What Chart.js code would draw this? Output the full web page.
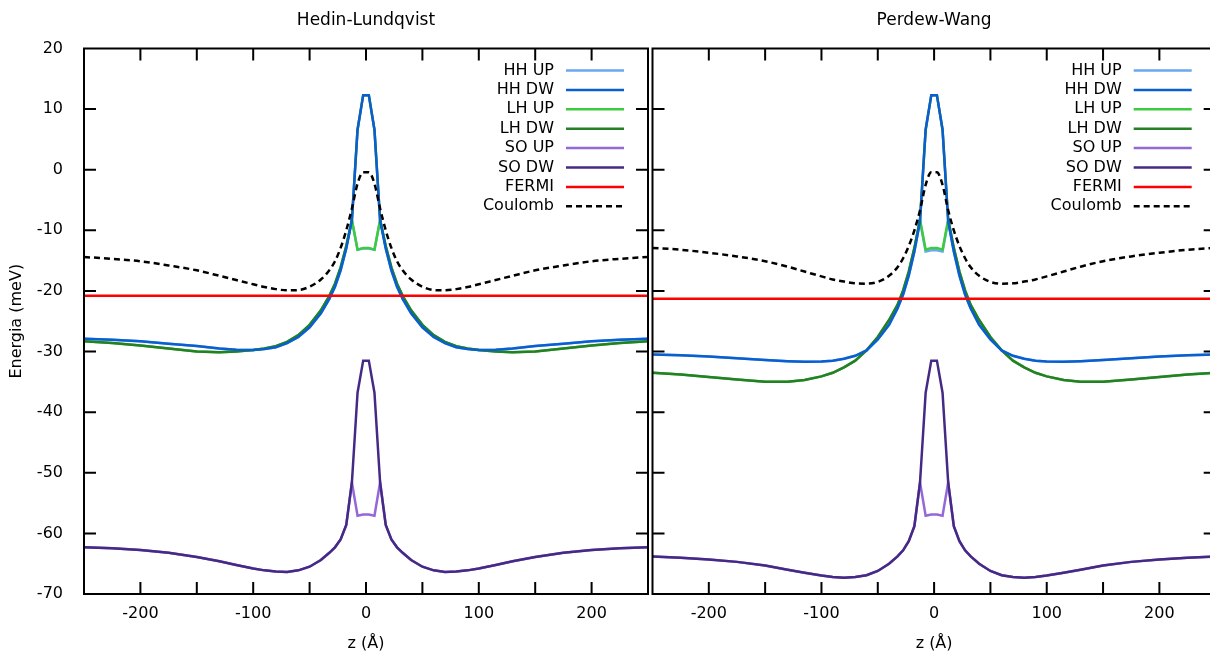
<!DOCTYPE html>
<html>
<head>
<meta charset="utf-8">
<script src="https://cdn.jsdelivr.net/npm/chart.js@4.4.1/dist/chart.umd.min.js"></script>
<style>
  html, body { margin: 0; padding: 0; background: #fff; overflow: hidden; }
  #wrap { position: relative; width: 1210px; height: 658px; overflow: hidden; }
  #left { position: absolute; left: 0; top: 0; width: 650px; height: 658px; }
  #right { position: absolute; left: 650px; top: 0; width: 570px; height: 658px; }
</style>
</head>
<body>
<div id="wrap">
  <div id="left"><canvas id="chart-hl"></canvas></div>
  <div id="right"><canvas id="chart-pw"></canvas></div>
</div>
<script>
// z grid (Angstrom), shared by every curve
const zGrid = [-250, -225, -200, -175, -150, -130, -115, -100, -90, -80, -70, -60, -50, -40, -32.5, -27.5, -22.5, -17.5, -12.5, -7.5, -2.5,
               2.5, 7.5, 12.5, 17.5, 22.5, 27.5, 32.5, 40, 50, 60, 70, 80, 90, 100, 115, 130, 150, 175, 200, 225, 250];
const fermiZ = [-250, 250];
const xTicks = [-200, -150, -100, -50, 0, 50, 100, 150, 200];
const yTicks = [-60, -50, -40, -30, -20, -10, 0, 10];

// Hedin-Lundqvist (meV)
const hlHHup = [-27.9, -28.05, -28.3, -28.7, -29.1, -29.5, -29.7, -29.75, -29.6, -29.3, -28.6, -27.6, -26.0, -23.7, -21.3, -19.3, -16.6, -13.0, -8.3, -13.2, -13.0,
                -13.0, -13.2, -8.3, -13.0, -16.6, -19.3, -21.3, -23.7, -26.0, -27.6, -28.6, -29.3, -29.6, -29.75, -29.7, -29.5, -29.1, -28.7, -28.3, -28.05, -27.9];
const hlHHdw = [-27.9, -28.05, -28.3, -28.7, -29.1, -29.5, -29.7, -29.75, -29.6, -29.3, -28.6, -27.6, -26.0, -23.7, -21.3, -19.3, -16.6, -13.0, -8.3, 6.6, 12.3,
                12.3, 6.6, -8.3, -13.0, -16.6, -19.3, -21.3, -23.7, -26.0, -27.6, -28.6, -29.3, -29.6, -29.75, -29.7, -29.5, -29.1, -28.7, -28.3, -28.05, -27.9];
const hlLHup = [-28.3, -28.6, -29.0, -29.5, -30.0, -30.1, -30.0, -29.75, -29.5, -29.1, -28.4, -27.3, -25.6, -23.2, -20.8, -18.8, -16.1, -12.6, -8.3, -13.2, -12.9,
                -12.9, -13.2, -8.3, -12.6, -16.1, -18.8, -20.8, -23.2, -25.6, -27.3, -28.4, -29.1, -29.5, -29.75, -30.0, -30.1, -30.0, -29.5, -29.0, -28.6, -28.3];
const hlLHdw = [-28.3, -28.6, -29.0, -29.5, -30.0, -30.1, -30.0, -29.75, -29.5, -29.1, -28.4, -27.3, -25.6, -23.2, -20.8, -18.8, -16.1, -12.6, -8.3, 6.6, 12.3,
                12.3, 6.6, -8.3, -12.6, -16.1, -18.8, -20.8, -23.2, -25.6, -27.3, -28.4, -29.1, -29.5, -29.75, -30.0, -30.1, -30.0, -29.5, -29.0, -28.6, -28.3];
const hlSOup = [-62.3, -62.45, -62.75, -63.2, -63.9, -64.6, -65.2, -65.8, -66.1, -66.3, -66.35, -66.1, -65.5, -64.4, -63.2, -62.3, -61.0, -58.6, -51.6, -57.1, -56.9,
                -56.9, -57.1, -51.6, -58.6, -61.0, -62.3, -63.2, -64.4, -65.5, -66.1, -66.35, -66.3, -66.1, -65.8, -65.2, -64.6, -63.9, -63.2, -62.75, -62.45, -62.3];
const hlSOdw = [-62.3, -62.45, -62.75, -63.2, -63.9, -64.6, -65.2, -65.8, -66.1, -66.3, -66.35, -66.1, -65.5, -64.4, -63.2, -62.3, -61.0, -58.6, -51.6, -36.8, -31.5,
                -31.5, -36.8, -51.6, -58.6, -61.0, -62.3, -63.2, -64.4, -65.5, -66.1, -66.35, -66.3, -66.1, -65.8, -65.2, -64.6, -63.9, -63.2, -62.75, -62.45, -62.3];
const hlCoulomb = [-14.4, -14.7, -15.1, -15.8, -16.6, -17.5, -18.2, -18.9, -19.35, -19.7, -19.9, -19.85, -19.3, -18.1, -16.6, -15.1, -12.9, -10.0, -6.4, -2.3, -0.4,
                   -0.4, -2.3, -6.4, -10.0, -12.9, -15.1, -16.6, -18.1, -19.3, -19.85, -19.9, -19.7, -19.35, -18.9, -18.2, -17.5, -16.6, -15.8, -15.1, -14.7, -14.4];
const hlFermi = [-20.8, -20.8];

// Perdew-Wang (meV)
const pwHHup = [-30.5, -30.6, -30.8, -31.1, -31.4, -31.6, -31.7, -31.65, -31.5, -31.2, -30.7, -29.8, -28.0, -25.6, -22.9, -20.6, -17.5, -13.5, -8.5, -13.5, -13.3,
                -13.3, -13.5, -8.5, -13.5, -17.5, -20.6, -22.9, -25.6, -28.0, -29.8, -30.7, -31.2, -31.5, -31.65, -31.7, -31.6, -31.4, -31.1, -30.8, -30.6, -30.5];
const pwHHdw = [-30.5, -30.6, -30.8, -31.1, -31.4, -31.6, -31.7, -31.65, -31.5, -31.2, -30.7, -29.8, -28.0, -25.6, -22.9, -20.6, -17.5, -13.5, -8.5, 6.6, 12.3,
                12.3, 6.6, -8.5, -13.5, -17.5, -20.6, -22.9, -25.6, -28.0, -29.8, -30.7, -31.2, -31.5, -31.65, -31.7, -31.6, -31.4, -31.1, -30.8, -30.6, -30.5];
const pwLHup = [-33.5, -33.8, -34.2, -34.6, -35.0, -35.0, -34.7, -34.1, -33.5, -32.6, -31.5, -29.8, -27.6, -24.8, -22.3, -19.9, -16.8, -12.9, -8.2, -13.2, -12.9,
                -12.9, -13.2, -8.2, -12.9, -16.8, -19.9, -22.3, -24.8, -27.6, -29.8, -31.5, -32.6, -33.5, -34.1, -34.7, -35.0, -35.0, -34.6, -34.2, -33.8, -33.5];
const pwLHdw = [-33.5, -33.8, -34.2, -34.6, -35.0, -35.0, -34.7, -34.1, -33.5, -32.6, -31.5, -29.8, -27.6, -24.8, -22.3, -19.9, -16.8, -12.9, -8.2, 6.6, 12.3,
                12.3, 6.6, -8.2, -12.9, -16.8, -19.9, -22.3, -24.8, -27.6, -29.8, -31.5, -32.6, -33.5, -34.1, -34.7, -35.0, -35.0, -34.6, -34.2, -33.8, -33.5];
const pwSOup = [-63.8, -64.0, -64.3, -64.7, -65.3, -66.0, -66.5, -66.95, -67.2, -67.3, -67.2, -66.9, -66.2, -65.0, -63.8, -62.8, -61.3, -58.8, -51.6, -57.1, -56.9,
                -56.9, -57.1, -51.6, -58.8, -61.3, -62.8, -63.8, -65.0, -66.2, -66.9, -67.2, -67.3, -67.2, -66.95, -66.5, -66.0, -65.3, -64.7, -64.3, -64.0, -63.8];
const pwSOdw = [-63.8, -64.0, -64.3, -64.7, -65.3, -66.0, -66.5, -66.95, -67.2, -67.3, -67.2, -66.9, -66.2, -65.0, -63.8, -62.8, -61.3, -58.8, -51.6, -36.8, -31.5,
                -31.5, -36.8, -51.6, -58.8, -61.3, -62.8, -63.8, -65.0, -66.2, -66.9, -67.2, -67.3, -67.2, -66.95, -66.5, -66.0, -65.3, -64.7, -64.3, -64.0, -63.8];
const pwCoulomb = [-12.9, -13.2, -13.7, -14.3, -15.1, -16.0, -16.8, -17.6, -18.1, -18.45, -18.75, -18.8, -18.5, -17.5, -16.1, -14.6, -12.6, -10.0, -6.7, -2.5, -0.4,
                   -0.4, -2.5, -6.7, -10.0, -12.6, -14.6, -16.1, -17.5, -18.5, -18.8, -18.75, -18.45, -18.1, -17.6, -16.8, -16.0, -15.1, -14.3, -13.7, -13.2, -12.9];
const pwFermi = [-21.3, -21.3];

Chart.defaults.font.family = "'DejaVu Sans', sans-serif";
Chart.defaults.font.size = 16;
Chart.defaults.color = "#000";

function pts(xs, ys) {
    return xs.map((x, i) => ({ x: x, y: ys[i] }));
}

// legend order first, "order" decides what is painted on top
function panelDatasets(s) {
    const base = { xAxisID: "x", yAxisID: "y", pointRadius: 0, borderWidth: 2.5, tension: 0, fill: false };
    return [
        { ...base, label: "HH UP", data: pts(zGrid, s.hhUp), borderColor: "#6aa6f2", order: 7 },
        { ...base, label: "HH DW", data: pts(zGrid, s.hhDw), borderColor: "#0a5fd0", order: 4 },
        { ...base, label: "LH UP", data: pts(zGrid, s.lhUp), borderColor: "#3ccb3c", order: 6 },
        { ...base, label: "LH DW", data: pts(zGrid, s.lhDw), borderColor: "#257f25", order: 5 },
        { ...base, label: "SO UP", data: pts(zGrid, s.soUp), borderColor: "#9468d8", order: 3 },
        { ...base, label: "SO DW", data: pts(zGrid, s.soDw), borderColor: "#452a85", order: 2 },
        { ...base, label: "FERMI", data: pts(fermiZ, s.fermi), borderColor: "#ff0000", order: 0 },
        { ...base, label: "Coulomb", data: pts(zGrid, s.coulomb), borderColor: "#000000", borderDash: [6, 4],
          cubicInterpolationMode: "monotone", order: 1 }
    ];
}

// gnuplot-like frame: box, inward ticks on all sides, key in the upper right
const framePlugin = {
    id: "frame",
    afterDatasetsDraw(chart) {
        const ctx = chart.ctx;
        const a = chart.chartArea;
        const x = chart.scales.x;
        const y = chart.scales.y;
        ctx.save();
        ctx.strokeStyle = "#000";
        ctx.lineWidth = 2;
        ctx.setLineDash([]);
        ctx.beginPath();
        xTicks.forEach(v => {
            const px = x.getPixelForValue(v);
            ctx.moveTo(px, a.bottom); ctx.lineTo(px, a.bottom - 12);
            ctx.moveTo(px, a.top); ctx.lineTo(px, a.top + 12);
        });
        yTicks.forEach(v => {
            const py = y.getPixelForValue(v);
            ctx.moveTo(a.left, py); ctx.lineTo(a.left + 12, py);
            ctx.moveTo(a.right, py); ctx.lineTo(a.right - 12, py);
        });
        ctx.stroke();
        ctx.strokeRect(a.left, a.top, a.right - a.left, a.bottom - a.top);

        // key
        const lineEnd = a.right - 24;
        const lineStart = lineEnd - 58;
        ctx.font = "16px 'DejaVu Sans', sans-serif";
        ctx.textAlign = "right";
        ctx.textBaseline = "middle";
        chart.data.datasets.forEach((ds, i) => {
            const ry = a.top + 22 + i * 19.4;
            ctx.fillStyle = "#000";
            ctx.fillText(ds.label, lineStart - 12, ry);
            ctx.strokeStyle = ds.borderColor;
            ctx.lineWidth = ds.borderWidth;
            ctx.setLineDash(ds.borderDash || []);
            ctx.beginPath();
            ctx.moveTo(lineStart, ry);
            ctx.lineTo(lineEnd, ry);
            ctx.stroke();
        });
        ctx.restore();
    }
};

function panelOptions(title, isLeft) {
    const yAxis = {
        display: isLeft, min: -70, max: 20,
        grid: { display: false }, border: { display: false },
        ticks: { stepSize: 10, padding: 13 },
        title: { display: true, text: "Energia (meV)", padding: { top: 7, bottom: 0 } }
    };
    if (isLeft) {
        yAxis.afterFit = s => { s.width = 84; };
    }
    return {
        responsive: true,
        maintainAspectRatio: false,
        animation: false,
        devicePixelRatio: 1,
        layout: { padding: isLeft ? { left: 0, right: 2, top: 0, bottom: 0 } : { left: 2.5, right: 4.3, top: 0, bottom: 0 } },
        plugins: { legend: { display: false }, tooltip: { enabled: false }, title: { display: false } },
        scales: {
            x: {
                type: "linear", position: "bottom", min: -250, max: 250,
                // invisible tick marks only push the labels down
                grid: { display: true, drawOnChartArea: false, drawTicks: true, tickLength: 10, tickColor: "rgba(0,0,0,0)" },
                border: { display: false },
                ticks: { stepSize: 50, autoSkip: false, maxRotation: 0, padding: 0,
                         callback: v => (v % 100 === 0 ? String(v) : "") },
                title: { display: true, text: "z (Å)", padding: { top: 0, bottom: 5 } },
                afterFit: s => { s.height = 64; }
            },
            top: {
                type: "linear", position: "top", min: -250, max: 250,
                grid: { display: false }, border: { display: false }, ticks: { display: false },
                title: { display: true, text: title, font: { size: 17 }, padding: { top: 10, bottom: 0 } },
                afterFit: s => { s.height = 48.5; }
            },
            y: yAxis
        }
    };
}

// Hedin-Lundqvist panel
const ctxHL = document.getElementById("chart-hl").getContext("2d");
const chartHL = new Chart(ctxHL, {
    type: "line",
    data: {
        datasets: panelDatasets({ hhUp: hlHHup, hhDw: hlHHdw, lhUp: hlLHup, lhDw: hlLHdw,
                                  soUp: hlSOup, soDw: hlSOdw, fermi: hlFermi, coulomb: hlCoulomb })
    },
    options: panelOptions("Hedin-Lundqvist", true),
    plugins: [framePlugin]
});

// Perdew-Wang panel
const ctxPW = document.getElementById("chart-pw").getContext("2d");
const chartPW = new Chart(ctxPW, {
    type: "line",
    data: {
        datasets: panelDatasets({ hhUp: pwHHup, hhDw: pwHHdw, lhUp: pwLHup, lhDw: pwLHdw,
                                  soUp: pwSOup, soDw: pwSOdw, fermi: pwFermi, coulomb: pwCoulomb })
    },
    options: panelOptions("Perdew-Wang", false),
    plugins: [framePlugin]
});
</script>
</body>
</html>
